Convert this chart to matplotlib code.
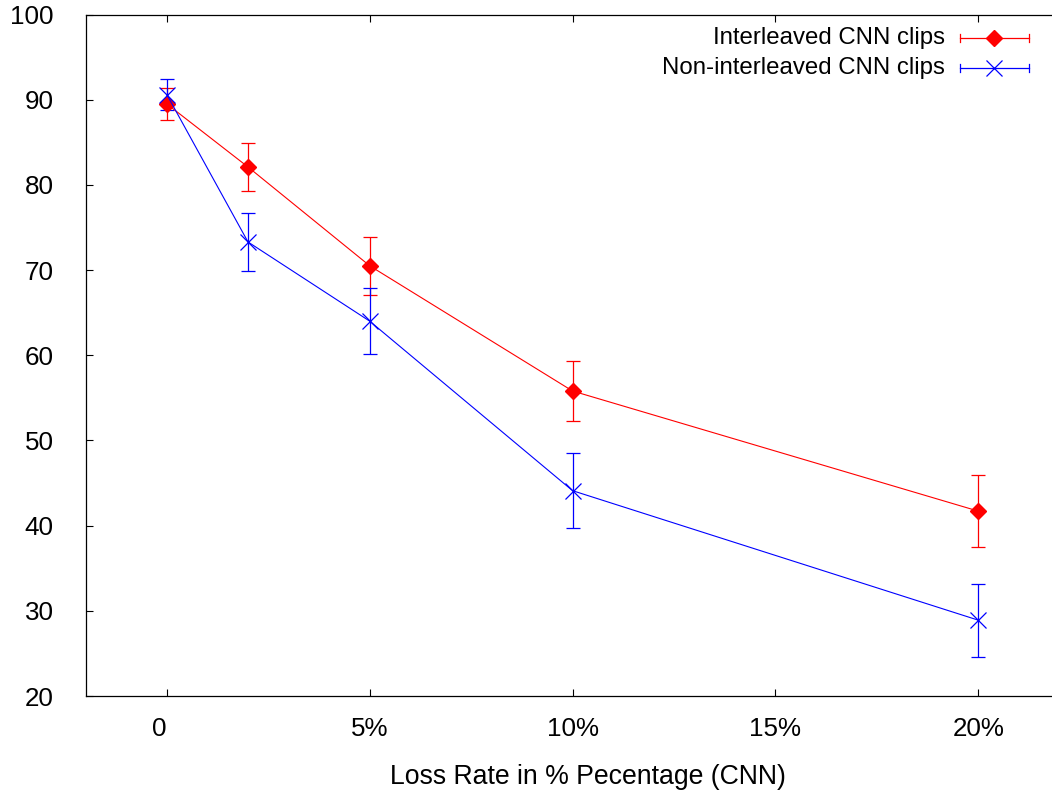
import matplotlib.pyplot as plt
from matplotlib.lines import Line2D
from matplotlib.transforms import ScaledTranslation

plt.rcParams['font.family'] = ['Liberation Sans', 'DejaVu Sans']

loss = [0, 2, 5, 10, 20]
inter = [89.5, 82.1, 70.5, 55.8, 41.7]
inter_err = [1.9, 2.8, 3.4, 3.5, 4.2]
noninter = [90.6, 73.3, 64.0, 44.1, 28.9]
noninter_err = [1.8, 3.4, 3.9, 4.4, 4.3]

xticks = [0, 5, 10, 15, 20]
xticklabels = ['0', '5%', '10%', '15%', '20%']
yticks = [20, 30, 40, 50, 60, 70, 80, 90, 100]

W, H = 1052, 794
fig = plt.figure(figsize=(W / 100, H / 100), dpi=100)
# the frame runs past the right edge, so no right border shows
ax = fig.add_axes([85.7 / W, 1 - 696 / H, (1059.5 - 85.7) / W, (696 - 14.5) / H])

ax.errorbar(loss, inter, yerr=inter_err, color='red', lw=0.8, elinewidth=0.9,
            capsize=5, capthick=0.9, marker='D', ms=8.5, mec='red', mfc='red')
ax.errorbar(loss, noninter, yerr=noninter_err, color='blue', lw=0.8, elinewidth=0.9,
            capsize=5, capthick=0.9, marker='x', ms=12, mew=0.9)

ax.set_xlim(-2, 22)
ax.set_ylim(20, 100)
ax.set_xticks(xticks)
ax.set_xticklabels(xticklabels)
ax.set_yticks(yticks)
ax.tick_params(direction='in', length=5, width=0.8, labelsize=18.7, top=True, right=True)
ax.tick_params(axis='x', pad=15)
ax.tick_params(axis='y', pad=23)
for s in ax.spines.values():
    s.set_linewidth(0.9)
ax.set_xlabel('Loss Rate in % Pecentage (CNN)', fontsize=19.2, labelpad=17)
ax.xaxis.label.set_x(0.516)

# nudge the "0" label a little to the left
lab0 = ax.get_xticklabels()[0]
lab0.set_transform(lab0.get_transform() + ScaledTranslation(-0.08, 0, fig.dpi_scale_trans))


# key drawn by hand: right-aligned labels, sample line with end caps
def key_entry(y, label, color, marker, ms, mew):
    fy = 1 - y / H
    fig.text(945 / W, fy, label, ha='right', va='center', fontsize=17.3)
    fig.add_artist(Line2D([960 / W, 1029 / W], [fy, fy], color=color, lw=0.9))
    for xe in (960, 1029):
        fig.add_artist(Line2D([xe / W, xe / W], [fy - 4 / H, fy + 4 / H], color=color, lw=0.9))
    fig.add_artist(Line2D([994 / W], [fy], color=color, marker=marker, ms=ms, mew=mew,
                          mfc=color, mec=color))


key_entry(38, 'Interleaved CNN clips', 'red', 'D', 8.5, 1)
key_entry(68, 'Non-interleaved CNN clips', 'blue', 'x', 12, 0.9)

fig.savefig('out.png', dpi=100)
